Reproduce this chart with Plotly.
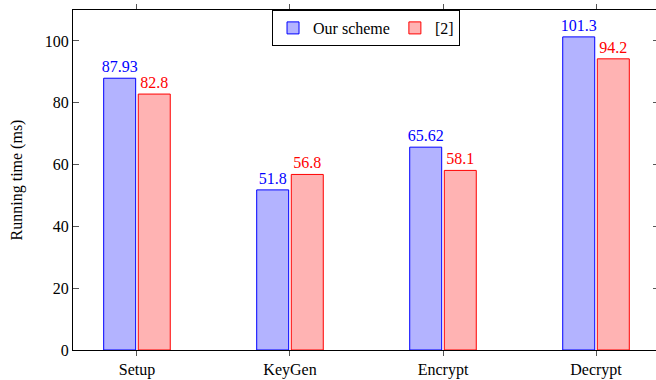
import plotly.graph_objects as go

categories = ["Setup", "KeyGen", "Encrypt", "Decrypt"]
ours = [87.93, 51.8, 65.62, 101.3]
ref2 = [82.8, 56.8, 58.1, 94.2]
series_names = ["Our scheme", "[2]"]
y_ticks = [0, 20, 40, 60, 80, 100]

FONT = "Times New Roman, Liberation Serif, serif"
FS = 16

fig = go.Figure()
fig.add_trace(go.Bar(
    x=categories, y=ours, name=series_names[0],
    marker=dict(color="#b3b3ff", line=dict(color="#0000ff", width=1)),
    text=[str(v) for v in ours], textposition="outside",
    textfont=dict(color="#0000ff", family=FONT, size=FS),
    cliponaxis=False,
))
fig.add_trace(go.Bar(
    x=categories, y=ref2, name=series_names[1],
    marker=dict(color="#ffb3b3", line=dict(color="#ff0000", width=1)),
    text=[str(v) for v in ref2], textposition="outside",
    textfont=dict(color="#ff0000", family=FONT, size=FS),
    cliponaxis=False,
))
# invisible trace for right-side mirrored y ticks
fig.add_trace(go.Scatter(x=categories, y=[None]*4, yaxis="y2", showlegend=False, hoverinfo="skip"))

fig.update_layout(
    width=656, height=380,
    margin=dict(l=73, r=0, t=10, b=30),
    paper_bgcolor="white", plot_bgcolor="white",
    font=dict(family=FONT, size=FS, color="black"),
    barmode="group", bargap=0.548, bargroupgap=0.075,
    uniformtext=dict(minsize=FS, mode="show"),
    showlegend=True,
    legend=dict(
        orientation="h", x=0.5026, xanchor="center", y=1, yanchor="top",
        bordercolor="black", borderwidth=1, bgcolor="white",
        font=dict(family=FONT, size=FS), itemwidth=30,
    ),
    xaxis=dict(
        type="category", range=[-0.418, 3.392],
        showline=True, linecolor="black", linewidth=1, mirror="ticks",
        ticks="outside", ticklen=5, tickcolor="#555", showgrid=False, zeroline=False,
    ),
    yaxis=dict(
        range=[0, 110], tickvals=y_ticks,
        showline=True, linecolor="black", linewidth=1,
        ticks="inside", ticklen=6, tickcolor="#555", showgrid=False, zeroline=False,
        title=dict(text="Running time (ms)", font=dict(family=FONT, size=FS), standoff=18),
    ),
    yaxis2=dict(
        range=[0, 110], tickvals=y_ticks, overlaying="y", side="right",
        showline=False, ticks="inside", ticklen=3, tickcolor="#555",
        showticklabels=False, showgrid=False, zeroline=False,
    ),
)

fig.write_html("out.html")
